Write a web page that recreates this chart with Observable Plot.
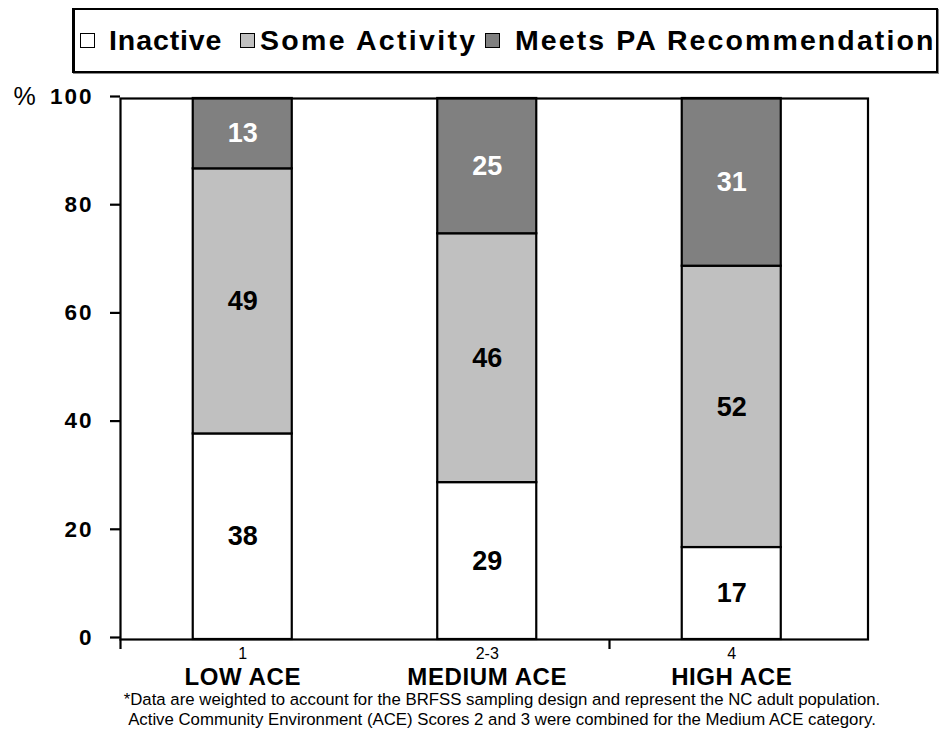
<!DOCTYPE html>
<html>
<head>
<meta charset="utf-8">
<script src="https://cdn.jsdelivr.net/npm/d3@7"></script>
<script src="https://cdn.jsdelivr.net/npm/@observablehq/plot@0.6"></script>
<style>
  body { margin: 0; background: #fff; font-family: "Liberation Sans", Arial, sans-serif; }
  #wrap { position: relative; width: 939px; height: 731px; overflow: hidden; }
  #legendBox { position: absolute; left: 72px; top: 8px; width: 861px; height: 61px; border: 2px solid #000; border-left-width: 3px; box-shadow: 1px 1px 0 #888; }
  .lg-mark { position: absolute; top: 33px; width: 13px; height: 13px; border: 1.5px solid #000; }
  .lg-text { position: absolute; top: 26px; font-size: 28.5px; line-height: 28px; font-weight: bold; color: #000; white-space: nowrap; }
  #chart { position: absolute; left: 0; top: 80px; }
  #note { position: absolute; left: 62px; top: 690px; width: 880px; text-align: center; font-size: 16.8px; line-height: 20px; color: #000; }
</style>
</head>
<body>
<div id="wrap">
  <div id="legendBox"></div>
  <div id="chart"></div>
  <div id="note"></div>
</div>
<script>
// ---- data ----
const categories = ["LOW ACE", "MEDIUM ACE", "HIGH ACE"];
const scoreLabels = ["1", "2-3", "4"];
const series = ["Inactive", "Some Activity", "Meets PA Recommendation"];
const inactive = [38, 29, 17];
const someActivity = [49, 46, 52];
const meetsPA = [13, 25, 31];
const yTicks = [0, 20, 40, 60, 80, 100];
const boundaryTicks = [0, 2];
const seriesColors = ["#ffffff", "#c0c0c0", "#808080"];
const footnotes = [
  "*Data are weighted to account for the BRFSS sampling design and represent the NC adult population.",
  "Active Community Environment (ACE) Scores 2 and 3 were combined for the Medium ACE category."
];

// ---- table built from arrays ----
const valuesBySeries = [inactive, someActivity, meetsPA];
const rows = [];
categories.forEach((cat, i) => {
  let base = 0;
  series.forEach((s, j) => {
    const v = valuesBySeries[j][i];
    rows.push({category: cat, index: i, series: s, value: v, y1: base, y2: base + v});
    base += v;
  });
});

const half = 0.2025; // half bar width in category units
const font = "'Liberation Sans', Arial, sans-serif";

const plot = Plot.plot({
  width: 939,
  height: 611,
  marginTop: 18,
  marginLeft: 120,
  marginRight: 85.5,
  marginBottom: 52,
  x: {domain: [0, 3], axis: null},
  y: {domain: [0, 100], axis: null},
  color: {domain: series, range: seriesColors},
  style: {fontFamily: font, fontSize: "16px", color: "#000", background: "transparent", overflow: "visible"},
  marks: [
    Plot.rect(rows, {
      x1: d => d.index + 0.5 - half,
      x2: d => d.index + 0.5 + half,
      y1: "y1", y2: "y2",
      fill: "series", stroke: "#000", strokeWidth: 2.2
    }),
    Plot.text(rows.filter(d => d.series !== series[2]), {
      x: d => d.index + 0.5, y: d => (d.y1 + d.y2) / 2,
      text: d => String(d.value), fill: "#000", fontSize: 27, fontWeight: "bold"
    }),
    Plot.text(rows.filter(d => d.series === series[2]), {
      x: d => d.index + 0.5, y: d => (d.y1 + d.y2) / 2,
      text: d => String(d.value), fill: "#fff", fontSize: 27, fontWeight: "bold"
    }),
    Plot.frame({stroke: "#000", strokeWidth: 2.2, insetRight: -14}),
    Plot.axisY({
      ticks: yTicks, tickSize: 10, tickPadding: 17, tickFormat: d => String(d),
      fontSize: 22.5, fontWeight: "bold", strokeWidth: 2.2, dy: -2, label: null
    }),
    Plot.axisX({
      ticks: boundaryTicks, tickSize: 10, tickFormat: () => "", strokeWidth: 2.2, label: null
    }),
    Plot.text(["%"], {x: 0, y: 100, text: d => d, dx: -96, dy: -2, fontSize: 25, textAnchor: "middle"}),
    Plot.text(scoreLabels, {
      x: (d, i) => i + 0.5, frameAnchor: "bottom", lineAnchor: "bottom", dy: 19,
      text: d => d, fontSize: 16
    }),
    Plot.text(categories, {
      x: (d, i) => i + 0.5, frameAnchor: "bottom", lineAnchor: "bottom", dy: 45,
      text: d => d, fontSize: 24, fontWeight: "bold"
    })
  ]
});
plot.querySelectorAll('[aria-label="y-axis tick label"] text').forEach(t => t.setAttribute("letter-spacing", "2"));
plot.querySelectorAll('[aria-label="text"]').forEach(g => {
  g.querySelectorAll("text").forEach(t => { if (categories.includes(t.textContent)) t.setAttribute("letter-spacing", "0.6"); });
});
document.getElementById("chart").appendChild(plot);

// ---- legend ----
const markLefts = [80, 240, 485];
const textLefts = [109, 260, 515];
const textSpacing = [0.9, 2.3, 2.1];
const box = document.getElementById("wrap");
series.forEach((s, i) => {
  const m = document.createElement("div");
  m.className = "lg-mark";
  m.style.left = markLefts[i] + "px";
  m.style.background = seriesColors[i];
  box.appendChild(m);
  const t = document.createElement("div");
  t.className = "lg-text";
  t.style.left = textLefts[i] + "px";
  t.style.letterSpacing = textSpacing[i] + "px";
  t.textContent = s;
  box.appendChild(t);
});

// ---- footnote ----
document.getElementById("note").innerHTML = footnotes.map(f => `<div>${f}</div>`).join("");
</script>
</body>
</html>
